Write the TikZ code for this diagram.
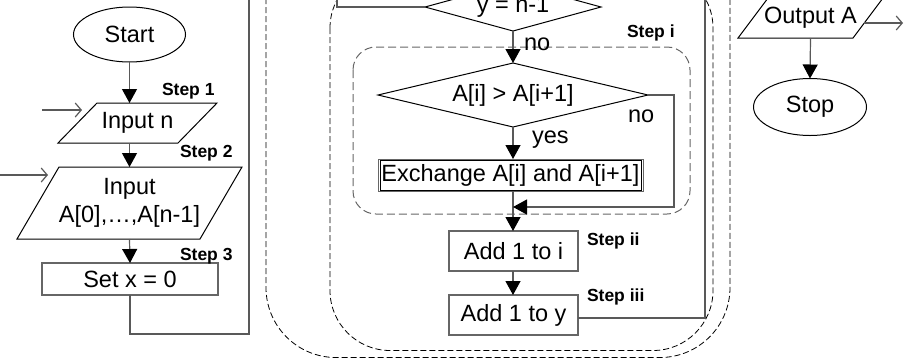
\documentclass[tikz,border=0pt]{standalone}
\usepackage{fontspec}
\setmainfont{Liberation Sans}
\usetikzlibrary{shapes.geometric,arrows.meta,calc}
\begin{document}
\begin{tikzpicture}[x=1pt,y=-1pt,
  every node/.style={inner sep=0pt,outer sep=0pt},
  txt/.style={font=\fontsize{23.5}{28}\selectfont},
  lbl/.style={txt,anchor=base west},
  steplbl/.style={font=\fontsize{17.5}{20}\selectfont\bfseries,anchor=base west},
  shapeline/.style={draw=black,line width=1pt},
  terminal/.style={ellipse,shapeline,txt},
  iobox/.style={rectangle,txt},
  decbox/.style={rectangle,txt},
  procbox/.style={rectangle,draw=black!60,line width=1.2pt,txt},
  conn/.style={draw=black!65,line width=1.2pt},
  arr/.style={-{Triangle[length=14pt,width=15pt,fill=black,color=black]}},
  inarr/.style={-{Straight Barb[length=6pt,width=14pt]}},
  dashline/.style={draw=black,line width=0.8pt,dash pattern=on 6pt off 3pt},
  dashgray/.style={draw=black!60,line width=1pt,dash pattern=on 8pt off 4pt},
]
\useasboundingbox (0,0) rectangle (907,360);
\clip (0,0) rectangle (907,360);

% ---------- dashed loop frames ----------
\draw[dashline, rounded corners=70pt] (266,-90) rectangle (730,357.5);
\draw[dashline, rounded corners=60pt] (330,-32) rectangle (713,350.5);
\draw[dashgray, rounded corners=23pt] (353,47) rectangle (690,214);

% ---------- left column: input ----------
\node[terminal, minimum width=112pt, minimum height=55pt] (start) at (129.5,34.5) {Start};

\node[iobox, minimum width=159pt, minimum height=40pt] (inN) at (137.5,123) {Input n};
\draw[shapeline] (inN.south west) -- ([xshift=-39pt]inN.south east)
  -- (inN.north east) -- ([xshift=39pt]inN.north west) -- cycle;

\node[iobox, minimum width=225pt, minimum height=72pt, align=center] (inA) at (129.5,203)
  {Input\\A[0],…,A[n-1]};
\draw[shapeline] (inA.south west) -- ([xshift=-42pt]inA.south east)
  -- (inA.north east) -- ([xshift=42pt]inA.north west) -- cycle;

\node[procbox, minimum width=176pt, minimum height=32pt] (setx) at (130,279) {Set x = 0};

\draw[conn,arr] (start.south) -- (start.south |- inN.north);
\draw[conn,arr] (inN.south -| start.south) -- (start.south |- inA.north);
\draw[conn,arr] (inA.south -| start.south) -- (setx.north);

\coordinate (feedN0) at (42,110);
\coordinate (feedN1) at (82,110);
\draw[conn,inarr] (feedN0) -- (feedN1);
\coordinate (feedA0) at (-5,175);
\coordinate (feedA1) at (48,175);
\draw[conn,inarr] (feedA0) -- (feedA1);

\coordinate (loopA) at (249,-20);
\draw[conn] (setx.south) -- ++(0,39) -| (loopA);

\node[steplbl] at (162,95) {Step 1};
\node[steplbl] at (180,157) {Step 2};
\node[steplbl] at (180,260) {Step 3};

% ---------- middle column: sorting passes ----------
\node[decbox, minimum width=176pt, minimum height=48pt] (dY) at (513,7) {y = n-1};
\draw[shapeline] (dY.west) -- (dY.north) -- (dY.east) -- (dY.south) -- cycle;
\coordinate (loopB) at (337,-20);
\draw[conn] (dY.west) -| (loopB);

\node[decbox, minimum width=270pt, minimum height=64pt] (dA) at (513,95) {A[i] > A[i+1]};
\draw[shapeline] (dA.west) -- (dA.north) -- (dA.east) -- (dA.south) -- cycle;
\draw[conn,arr] (dY.south) -- (dA.north);
\node[lbl] at (524,50) {no};

\node[procbox, line width=1pt, minimum width=265pt, minimum height=32pt] (exch) at (510.5,175) {Exchange A[i] and A[i+1]};
\draw[black,line width=0.6pt] ([xshift=1.8pt,yshift=1.2pt]exch.south west)
  rectangle ([xshift=-1.8pt,yshift=-1.2pt]exch.north east);
\draw[conn,arr] (dA.south) -- (dA.south |- exch.north);
\node[lbl] at (532,143) {yes};

\node[procbox, minimum width=129pt, minimum height=40pt] (add1i) at (513.5,251) {Add 1 to i};
\node[procbox, minimum width=129pt, minimum height=40pt] (add1y) at (513.5,315) {Add 1 to y};

\coordinate (merge) at (513,207);
\draw[conn,arr] (exch.south -| dA.south) -- (dA.south |- add1i.north);
\draw[conn,arr] (dA.east) -- ++(26,0) |- (merge);
\node[lbl] at (628,122) {no};

\draw[conn,arr] (add1i.south -| dA.south) -- (dA.south |- add1y.north);
\coordinate (loopC) at (705,-20);
\draw[conn] ([yshift=-3pt]add1y.east) -| (loopC);

\node[steplbl] at (627,37) {Step i};
\node[steplbl] at (587,245) {Step ii};
\node[steplbl] at (587,301) {Step iii};

% ---------- right column: output ----------
\node[iobox, minimum width=145pt, minimum height=40pt] (outA) at (810.5,18) {Output A};
\draw[shapeline] (outA.south west) -- ([xshift=-30pt]outA.south east)
  -- (outA.north east) -- ([xshift=30pt]outA.north west) -- cycle;
\node[terminal, minimum width=113pt, minimum height=57pt] (stop) at (810,107) {Stop};
\draw[conn,arr] (outA.south) -- (stop.north);

\coordinate (outA0) at (864,23);
\coordinate (outA1) at (903,23);
\draw[conn,inarr] (outA0) -- (outA1);
\end{tikzpicture}
\end{document}
